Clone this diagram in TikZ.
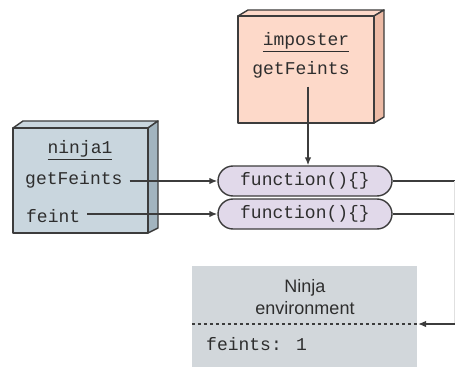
\documentclass[tikz,border=0pt]{standalone}
\usepackage{fontspec}
\setmainfont{Liberation Sans}
\newfontfamily\monof{Liberation Mono}
\usetikzlibrary{arrows.meta,shapes.misc}
\definecolor{ninjaface}{HTML}{C9D6DE}
\definecolor{ninjaside}{HTML}{A2B4BF}
\definecolor{impface}{HTML}{FDD9C9}
\definecolor{impside}{HTML}{EDBBA6}
\definecolor{pillfill}{HTML}{E1D9EA}
\definecolor{envfill}{HTML}{D2D7DB}
\definecolor{edge}{HTML}{3C3C3C}
\definecolor{txt}{HTML}{2E2E2E}
\begin{document}
\begin{tikzpicture}[x=1pt,y=-1pt,
  mono/.style={font=\monof\fontsize{18}{21}\selectfont, inner sep=0pt, text=txt},
  sans/.style={font=\fontsize{18}{22}\selectfont, inner sep=0pt, align=center, text=txt},
  pill/.style={rounded rectangle, draw=edge, line width=1.4pt, fill=pillfill,
    minimum width=174pt, minimum height=30pt, inner sep=0pt, text=txt,
    font=\monof\fontsize{18}{21}\selectfont},
  conn/.style={draw=edge, line width=1.4pt},
  arr/.style={conn, -{Latex[length=8pt,width=6.5pt]}},
  boxedge/.style={draw=edge, line width=1.4pt, line join=round}]
\useasboundingbox (0,0) rectangle (455,377);

% ninja1 box
\filldraw[boxedge, fill=ninjaface] (13,128) -- (23,121) -- (158,121) -- (148,128) -- cycle;
\filldraw[boxedge, fill=ninjaside] (148,128) -- (158,121) -- (158,228) -- (148,233) -- cycle;
\filldraw[boxedge, fill=ninjaface] (13,128) rectangle (148,233);
\node[mono] (n1title) at (80,150) {\underline{ninja1}};
\node[mono, anchor=west] (n1get) at (25,180) {getFeints};
\node[mono, anchor=west] (n1feint) at (26,216) {feint};

% imposter box
\filldraw[boxedge, fill=impface] (238,16) -- (248,10) -- (384,10) -- (374,16) -- cycle;
\filldraw[boxedge, fill=impside] (374,16) -- (384,10) -- (384,117) -- (374,123) -- cycle;
\filldraw[boxedge, fill=impface] (238,16) rectangle (374,123);
\node[mono] (imptitle) at (306,42) {\underline{imposter}};
\node[mono] (impget) at (301,70) {getFeints};

% function pills
\node[pill] (f1) at (305,181) {function()\{\}};
\node[pill] (f2) at (305,214) {function()\{\}};

% environment
\node[draw=none, fill=envfill, minimum width=225pt, minimum height=101pt, inner sep=0pt] (env) at (304.5,316.5) {};
\node[sans] (envtitle) at (305,297) {Ninja\\environment};
\draw[edge, dashed, line width=1.2pt] (env.west |- 0,324) coordinate (dl) -- (418,324) coordinate (dr);
\node[mono, anchor=west] (envfeints) at (206,344) {feints: 1};

% connectors
\draw[arr] ([xshift=7pt]n1get.east |- f1.west) -- (f1.west);
\draw[arr] ([xshift=7pt]n1feint.east |- f2.west) -- (f2.west);
\draw[arr] (impget.south -| 308,0) ++(0,8) -- (f1.north -| 308,0);
\coordinate (r1) at (455,181);
\coordinate (r2) at (455,214);
\coordinate (r3) at (454.5,324);
\draw[conn] (f1.east) -- (r1);
\draw[conn] (f2.east) -- (r2);
\draw[draw=black!12, line width=1pt] (454.5,181) -- (r3);
\draw[arr] (r3) -- (dr);
\end{tikzpicture}
\end{document}
